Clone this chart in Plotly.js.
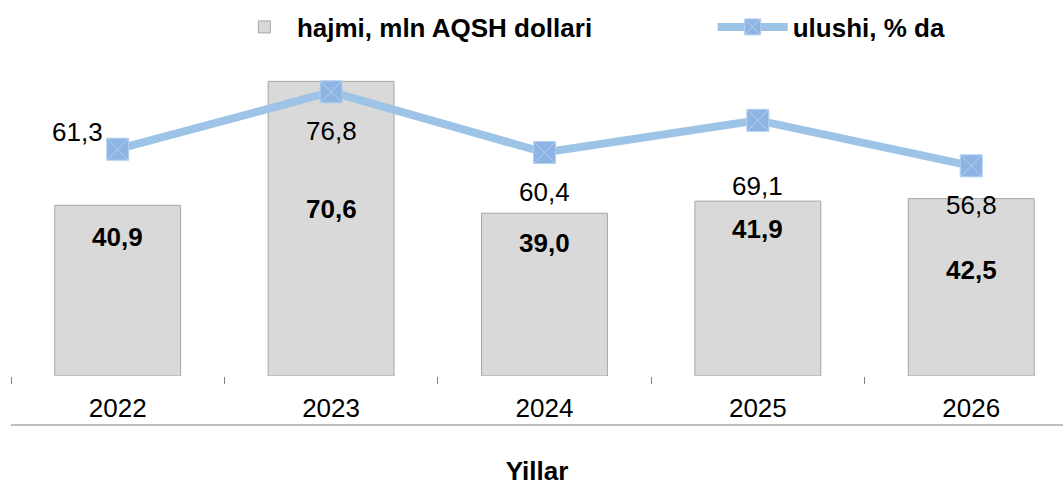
<!DOCTYPE html>
<html>
<head>
<meta charset="utf-8">
<script src="https://cdn.plot.ly/plotly-3.0.1.min.js"></script>
<style>
  html, body { margin: 0; padding: 0; background: #fff; }
  #myDiv { width: 1063px; height: 486px; }
</style>
</head>
<body>
<div id="myDiv"></div>
<script>
    var years = ['2022', '2023', '2024', '2025', '2026'];
    var hajmi = [40.9, 70.6, 39.0, 41.9, 42.5];
    var ulushi = [61.3, 76.8, 60.4, 69.1, 56.8];

    // label nudges (pixels), as placed by hand in the original
    var barLabelShift = [-32, -128, -30, -28, -71];
    var lineLabelShiftX = [-40, 0, 0, 0, 0];
    var lineLabelShiftY = [17, -39, -39, -66, -39];

    function fmt(v) {
        return v.toFixed(1).replace('.', ',');
    }

    var data = [{
        type: 'bar',
        name: 'hajmi, mln AQSH dollari',
        x: years,
        y: hajmi,
        width: 0.59,
        marker: {
            color: '#d9d9d9',
            line: { color: '#a6a6a6', width: 1 }
        },
        legend: 'legend',
        hoverinfo: 'x+y'
    }, {
        type: 'scatter',
        mode: 'lines+markers',
        name: 'ulushi, % da',
        x: years,
        y: ulushi,
        yaxis: 'y2',
        line: { color: '#9dc3e6', width: 8 },
        marker: {
            symbol: 'square-x',
            size: 22,
            color: '#8db4e2',
            line: { color: '#b4d0ef', width: 1 }
        },
        legend: 'legend2'
    }];

    var annotations = [];
    for (var i = 0; i < years.length; i++) {
        annotations.push({
            x: i, y: hajmi[i], xref: 'x', yref: 'y',
            text: '<b>' + fmt(hajmi[i]) + '</b>',
            showarrow: false, yshift: barLabelShift[i],
            font: { size: 26, color: '#000000' }
        });
        annotations.push({
            x: i, y: ulushi[i], xref: 'x', yref: 'y2',
            text: fmt(ulushi[i]),
            showarrow: false,
            xshift: lineLabelShiftX[i], yshift: lineLabelShiftY[i],
            font: { size: 26, color: '#000000' }
        });
    }

    var layout = {
        width: 1063,
        height: 486,
        margin: { l: 11, r: 0, t: 63, b: 110 },
        paper_bgcolor: '#fff',
        plot_bgcolor: '#fff',
        font: { family: 'Liberation Sans, Arial, sans-serif', size: 26, color: '#000' },
        xaxis: {
            type: 'category',
            range: [-0.5, 4.43],
            tickson: 'boundaries',
            ticks: 'outside',
            ticklen: 7,
            tickcolor: '#808080',
            tickwidth: 1,
            ticklabelstandoff: 14,
            showline: false,
            showgrid: false,
            zeroline: false,
            tickfont: { size: 26 },
            title: { text: '<b>Yillar</b>', font: { size: 26 }, standoff: 43 }
        },
        yaxis: {
            range: [0, 75],
            visible: false,
            showgrid: false,
            zeroline: false
        },
        yaxis2: {
            range: [0, 84.6],
            overlaying: 'y',
            side: 'right',
            visible: false,
            showgrid: false,
            zeroline: false
        },
        showlegend: true,
        legend: {
            orientation: 'h',
            x: 0.21, xanchor: 'left',
            y: 1.115, yanchor: 'middle',
            font: { size: 26, weight: 'bold' },
            itemwidth: 55,
            bgcolor: 'rgba(0,0,0,0)'
        },
        legend2: {
            orientation: 'h',
            x: 0.667, xanchor: 'left',
            y: 1.115, yanchor: 'middle',
            font: { size: 26, weight: 'bold' },
            itemwidth: 70,
            bgcolor: 'rgba(0,0,0,0)'
        },
        shapes: [{
            type: 'line', xref: 'paper', yref: 'paper',
            x0: 0, x1: 1, y0: -0.1565, y1: -0.1565,
            line: { color: '#808080', width: 1 }
        }],
        annotations: annotations
    };

    Plotly.newPlot('myDiv', data, layout, { displayModeBar: false });
</script>
</body>
</html>
